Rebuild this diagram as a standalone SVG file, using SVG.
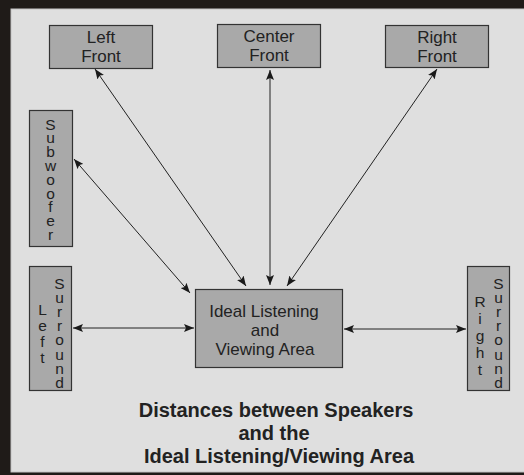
<svg xmlns="http://www.w3.org/2000/svg" width="524" height="475" viewBox="0 0 524 475">
<style>
.box{fill:#a9a9a9;stroke:#333;stroke-width:1.2}
.t{font-family:"Liberation Sans",Arial,sans-serif;font-size:17px;fill:#222;text-anchor:middle}
.v{font-family:"Liberation Sans",Arial,sans-serif;font-size:15.5px;fill:#222;text-anchor:middle}
.title{font-family:"Liberation Sans",Arial,sans-serif;font-size:20px;font-weight:bold;fill:#222;text-anchor:middle}
.c{stroke:#222;stroke-width:1;fill:none;marker-start:url(#ah);marker-end:url(#ah)}
</style>
<defs>
<marker id="ah" markerUnits="userSpaceOnUse" markerWidth="11" markerHeight="8" refX="10" refY="4" orient="auto-start-reverse">
<path d="M0,0 L10,4 L0,8 L2,4 z" fill="#1a1a1a"/>
</marker>
</defs>
<rect x="0" y="0" width="524" height="475" fill="#1f1b18"/>
<rect x="11" y="9" width="514" height="463" fill="#dfdfdf" stroke="#c4c4c4" stroke-width="1"/>

<g id="connectors">
<line class="c" x1="246" y1="286" x2="95" y2="69"/>
<line class="c" x1="190" y1="293" x2="74" y2="159"/>
<line class="c" x1="270" y1="285" x2="270" y2="70"/>
<line class="c" x1="287" y1="286" x2="437" y2="69"/>
<line class="c" x1="194" y1="328" x2="73" y2="328"/>
<line class="c" x1="344" y1="329" x2="466" y2="329"/>
</g>

<g id="left-front">
<rect class="box" x="49.5" y="25.5" width="103" height="43"/>
<text class="t" x="101" y="43">Left</text>
<text class="t" x="101" y="62">Front</text>
</g>
<g id="center-front">
<rect class="box" x="217.5" y="24.5" width="103" height="43"/>
<text class="t" x="269" y="42">Center</text>
<text class="t" x="269" y="61">Front</text>
</g>
<g id="right-front">
<rect class="box" x="385.5" y="25.5" width="103" height="42"/>
<text class="t" x="437" y="43">Right</text>
<text class="t" x="437" y="62">Front</text>
</g>
<g id="subwoofer">
<rect class="box" x="29.5" y="110.5" width="43" height="136"/>
<text class="v" x="50.5" y="129.5"><tspan x="50.5">S</tspan><tspan x="50.5" dy="13.8">u</tspan><tspan x="50.5" dy="13.8">b</tspan><tspan x="50.5" dy="13.8">w</tspan><tspan x="50.5" dy="13.8">o</tspan><tspan x="50.5" dy="13.8">o</tspan><tspan x="50.5" dy="13.8">f</tspan><tspan x="50.5" dy="13.8">e</tspan><tspan x="50.5" dy="13.8">r</tspan></text>
</g>
<g id="left-surround">
<rect class="box" x="29.5" y="266.5" width="42" height="124"/>
<text class="v" x="59.5" y="288.5"><tspan x="59.5">S</tspan><tspan x="59.5" dy="14.2">u</tspan><tspan x="59.5" dy="14.2">r</tspan><tspan x="59.5" dy="14.2">r</tspan><tspan x="59.5" dy="14.2">o</tspan><tspan x="59.5" dy="14.2">u</tspan><tspan x="59.5" dy="14.2">n</tspan><tspan x="59.5" dy="14.2">d</tspan></text>
<text class="v" x="42.5" y="315"><tspan x="42.5">L</tspan><tspan x="42.5" dy="16">e</tspan><tspan x="42.5" dy="16">f</tspan><tspan x="42.5" dy="16">t</tspan></text>
</g>
<g id="right-surround">
<rect class="box" x="467.5" y="266.5" width="42" height="124"/>
<text class="v" x="480" y="306.5"><tspan x="480">R</tspan><tspan x="480" dy="17">i</tspan><tspan x="480" dy="17">g</tspan><tspan x="480" dy="17">h</tspan><tspan x="480" dy="17">t</tspan></text>
<text class="v" x="498.5" y="288.5"><tspan x="498.5">S</tspan><tspan x="498.5" dy="14.2">u</tspan><tspan x="498.5" dy="14.2">r</tspan><tspan x="498.5" dy="14.2">r</tspan><tspan x="498.5" dy="14.2">o</tspan><tspan x="498.5" dy="14.2">u</tspan><tspan x="498.5" dy="14.2">n</tspan><tspan x="498.5" dy="14.2">d</tspan></text>
</g>
<g id="ideal-area">
<rect class="box" x="195.5" y="289.5" width="147" height="78"/>
<text class="t" x="264" y="317">Ideal Listening</text>
<text class="t" x="265" y="336">and</text>
<text class="t" x="265" y="355">Viewing Area</text>
</g>
<g id="title">
<text class="title" x="276" y="417">Distances between Speakers</text>
<text class="title" x="274" y="440">and the</text>
<text class="title" x="279" y="463">Ideal Listening/Viewing Area</text>
</g>
</svg>
